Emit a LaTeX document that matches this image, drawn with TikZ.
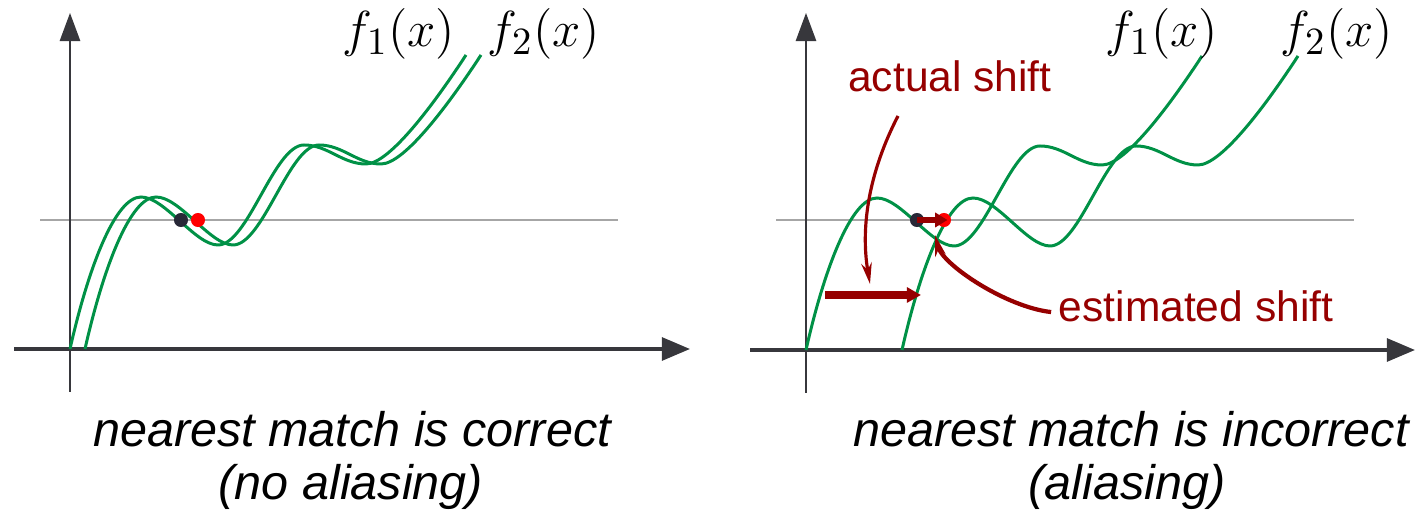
\documentclass[tikz,border=0pt]{standalone}
\usepackage{fontspec}
\usetikzlibrary{arrows.meta}
\newfontfamily\labelfont{Liberation Sans}
\DeclareMathSizes{14.5}{14.5}{11}{8}
\definecolor{curvegreen}{RGB}{0,145,70}
\definecolor{shiftred}{RGB}{150,0,0}
\definecolor{axisgray}{RGB}{55,55,60}
\definecolor{dotblack}{RGB}{40,40,55}
\tikzset{
  fcurve/.pic={\draw[fline] (0,0) .. controls (18,-80) and (45,-152) .. (71,-152)
    .. controls (95,-152) and (125,-104) .. (148,-104)
    .. controls (178,-104) and (204,-204) .. (234,-204)
    .. controls (258,-204) and (272,-185) .. (296,-185)
    .. controls (320,-185) and (366,-248) .. (396,-294);}
}
\begin{document}
\begin{tikzpicture}[x=0.01cm,y=-0.01cm,
  fline/.style={curvegreen,line width=0.85pt},
  xaxis/.style={axisgray,line width=1pt,-{Triangle[length=8pt,width=6.5pt]}},
  yaxis/.style={axisgray,line width=0.5pt,-{Triangle[length=8pt,width=5.8pt]}},
  refline/.style={gray!70,line width=0.6pt},
  fdot/.style={circle,inner sep=0pt,minimum size=4pt},
  thinarr/.style={shiftred,line width=0.9pt,-{Stealth[length=6pt,width=3pt]}},
  fatarr/.style={shiftred,line width=2pt,-{Triangle[length=4pt,width=4.2pt]}},
  shortarr/.style={shiftred,line width=1.7pt,-{Triangle[length=3.5pt,width=4pt]},shorten >=-1pt},
  shiftlab/.style={shiftred,font=\labelfont\fontsize{12.1}{14}\selectfont,inner sep=2pt,anchor=base},
  capt/.style={font=\labelfont\itshape\fontsize{13.8}{15}\selectfont,inner sep=0pt,anchor=base},
  flab/.style={font=\fontsize{14.5}{16}\selectfont,inner sep=0pt,anchor=base west}]
\useasboundingbox (0,0) rectangle (1417,519);
% left: no aliasing
\draw[refline] (40,220) -- (618,220);
\draw[xaxis] (14,349) -- (690,349);
\draw[yaxis] (70,392) -- (70,13);
\pic at (70,349) {fcurve};
\pic at (85,349) {fcurve};
\node[fdot,fill=dotblack] (bL) at (181,220) {};
\node[fdot,fill=red] (rL) at (198,220) {};
\node[flab] (f1L) at (342,47) {$f_1(x)$};
\node[flab] (f2L) at (487,47) {$f_2(x)$};
\node[capt] (capL1) at (352,447) {nearest match is correct};
\node[capt] (capL2) at (351,500) {(no aliasing)};
% right: aliasing
\draw[refline] (776,220) -- (1354,220);
\draw[xaxis] (750,350) -- (1415,350);
\draw[yaxis] (806,393) -- (806,13);
\pic at (806,350) {fcurve};
\pic at (902,350) {fcurve};
\node[fdot,fill=dotblack] (bR) at (917,220) {};
\node[fdot,fill=red] (rR) at (944,220) {};
\node[flab] (f1R) at (1105,47) {$f_1(x)$};
\node[flab] (f2R) at (1280,47) {$f_2(x)$};
\node[shiftlab] (actual) at (950,92) {actual shift};
\node[shiftlab] (estim) at (1196,322) {estimated shift};
\coordinate (actTail) at (898,116);
\coordinate (actHead) at (870,284);
\coordinate (shiftA) at (825,295);
\coordinate (shiftB) at (921,295);
\coordinate (estHead) at (935,235);
\draw[thinarr] (actTail) .. controls (870,170) and (860,225) .. (actHead);
\draw[fatarr] (shiftA) -- (shiftB);
\draw[shortarr] (bR.center) -- (rR.center);
\draw[thinarr,line width=1.2pt] ([yshift=-1.5pt]estim.west) .. controls +(-45,-5) and +(8,30) .. (estHead);
\node[capt] (capR1) at (1131,447) {nearest match is incorrect};
\node[capt] (capR2) at (1127,500) {(aliasing)};
\end{tikzpicture}
\end{document}
